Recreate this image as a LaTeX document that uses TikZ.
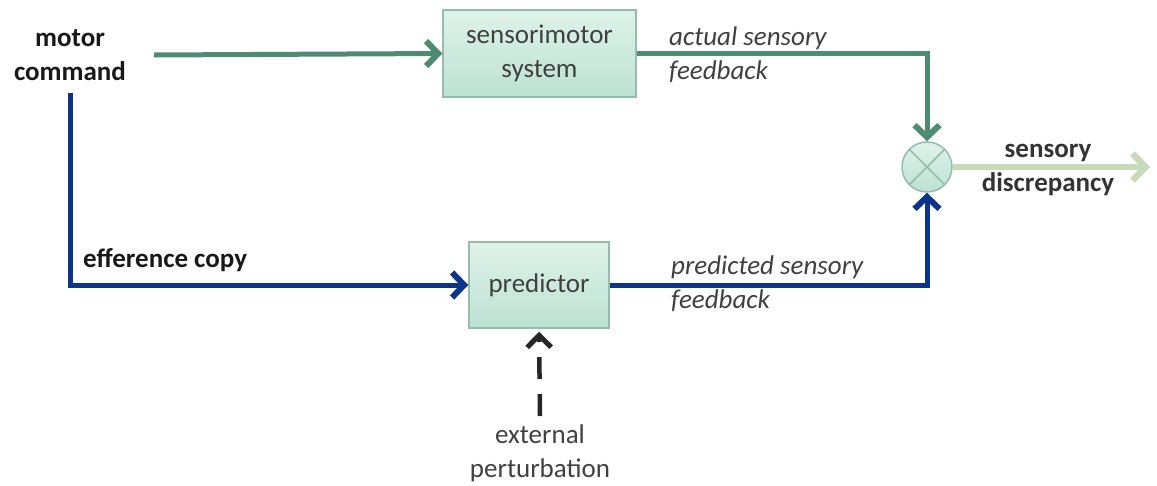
\documentclass[tikz,border=0pt]{standalone}
\usepackage{fontspec}
\setmainfont{Carlito}
\usetikzlibrary{arrows.meta,calc}
\definecolor{grn}{RGB}{78,140,114}
\definecolor{blu}{RGB}{12,52,138}
\definecolor{lgrn}{RGB}{200,218,186}
\definecolor{boxtop}{RGB}{222,242,234}
\definecolor{boxbot}{RGB}{188,226,210}
\definecolor{boxline}{RGB}{150,188,172}
\definecolor{txt}{RGB}{64,64,64}
\tikzset{
  blk/.style={draw=boxline, line width=1.5pt, top color=boxtop, bottom color=boxbot, inner sep=0pt, align=center, text=txt},
  lbl/.style={inner sep=0pt, align=left, text=txt, font=\fontsize{27}{34}\selectfont\itshape},
  blbl/.style={inner sep=0pt, align=center, text=black!90, font=\fontsize{27}{34}\selectfont\bfseries},
  tip/.style={-{Straight Barb[length=12pt,width=25pt,line width=6pt]}},
  grnline/.style={draw=grn, line width=5pt, tip},
  bluline/.style={draw=blu, line width=5pt, tip},
  lgrnline/.style={draw=lgrn, line width=6.5pt, -{Straight Barb[length=13pt,width=27pt,line width=6.5pt]}},
  dashline/.style={draw=black!85, line width=4.5pt, dash pattern=on 22pt off 15pt, -{Straight Barb[length=12pt,width=24pt,line width=5pt]}}
}
\begin{document}
\begin{tikzpicture}[x=1pt,y=-1pt,font=\fontsize{27}{34}\selectfont]
\useasboundingbox (0,0) rectangle (1157,485);
\node[blbl] (mc) at (70,55) {motor\\command};
\node[blk, minimum width=193pt, minimum height=87pt] (sm) at (539.5,53.5) {sensorimotor\\system};
\node[blk, minimum width=140pt, minimum height=86pt] (pr) at (539,285) {predictor};
\node[draw=boxline, line width=1.5pt, circle, minimum size=50pt, inner sep=0pt, top color=boxtop, bottom color=boxbot] (c) at (927,167) {};
\draw[boxline, line width=1.5pt] (c.north west) -- (c.south east) (c.north east) -- (c.south west);
\node[lbl, anchor=west] (af) at (669,55) {actual sensory\\feedback};
\node[lbl, anchor=west] (pf) at (671,284) {predicted sensory\\feedback};
\node[blbl, anchor=west] (ec) at (83,260) {efference copy};
\node[blbl, text=txt!80!black] (sd) at (1048,170) {sensory\\discrepancy};
\node[inner sep=0pt, align=center, text=txt] (ext) at (540,453) {external\\perturbation};
\coordinate (sdend) at (1150,167);
\coordinate (epstart) at (540,416);
\draw[grnline] ($(mc.east)+(28,0)$) -- (sm.west);
\draw[grnline] (sm.east) -| (c.north);
\draw[bluline] ($(mc.south)+(0,12)$) |- (pr.west);
\draw[bluline] (pr.east) -| (c.south);
\draw[lgrnline] (c.east) -- (sdend);
\draw[dashline] (epstart) -- ($(pr.south)+(0,3)$);
\end{tikzpicture}
\end{document}
